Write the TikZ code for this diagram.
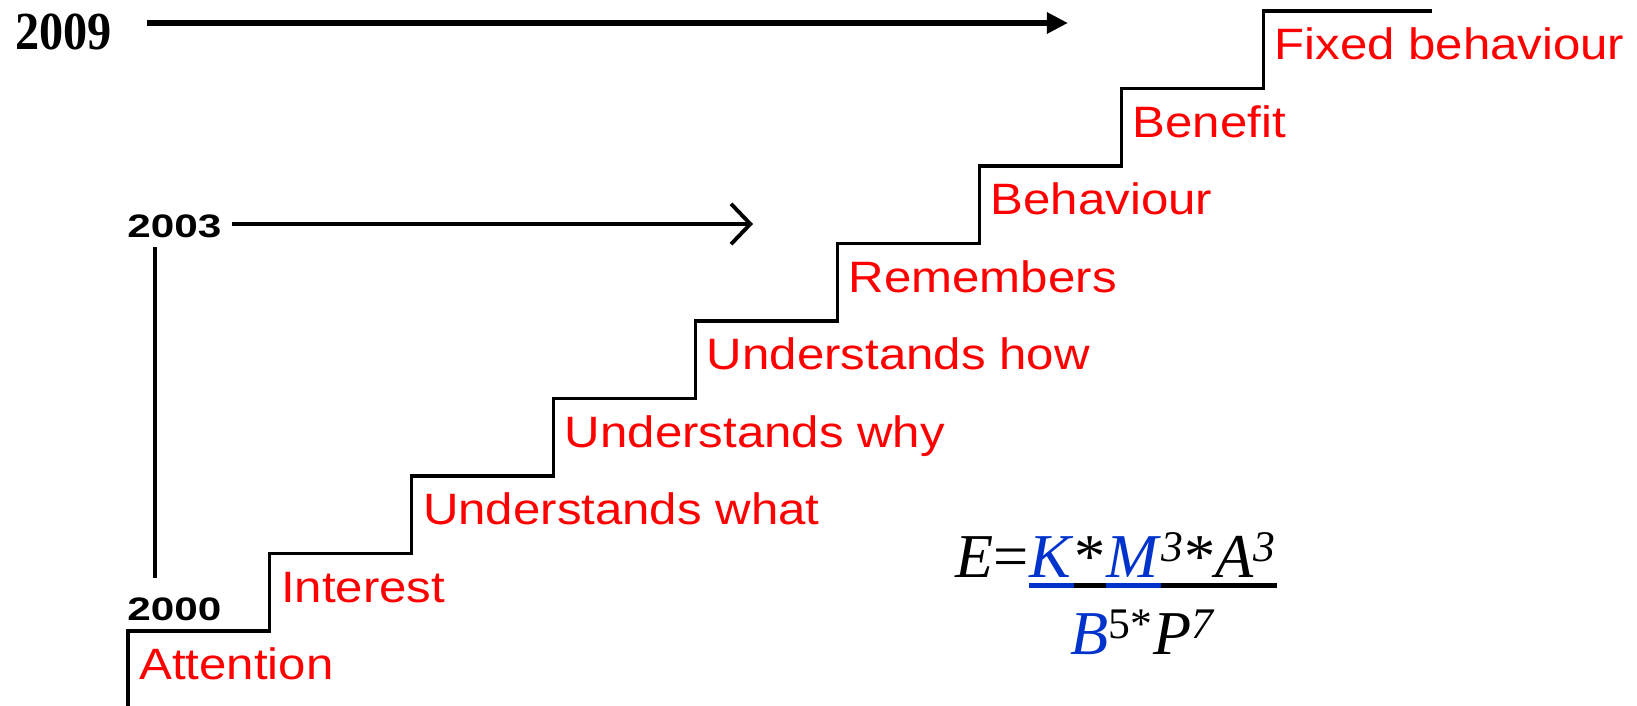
\documentclass[tikz,border=0pt]{standalone}
\usepackage{fontspec}
\setmainfont{Liberation Serif}
\newfontfamily\stepfont[FakeStretch=1.12]{Liberation Sans}
\newfontfamily\yearfont[FakeStretch=1.3]{Liberation Sans}
\newfontfamily\bigyearfont[FakeStretch=0.9]{Liberation Serif}
\usetikzlibrary{arrows.meta}
\definecolor{formblue}{RGB}{0,51,204}

\tikzset{
  steplabel/.style={anchor=base west,inner sep=0pt,text=red,
    font=\stepfont\fontsize{25}{30}\selectfont},
  year/.style={anchor=base west,inner sep=0pt,
    font=\yearfont\bfseries\fontsize{18.5}{22}\selectfont},
  formula/.style={anchor=base west,inner sep=0pt,
    font=\fontsize{35.5}{42}\selectfont},
  stair/.style={line width=1.8pt},
  fracbar/.style={line width=2.7pt}
}

\begin{document}
\begin{tikzpicture}[x=0.02cm,y=-0.02cm]
  \useasboundingbox (0,0) rectangle (1637,706);
  % steps and their labels
  \foreach \txt [count=\i from 0] in {Attention,Interest,Understands what,
      Understands why,Understands how,Remembers,Behaviour,Benefit,
      Fixed behaviour} {
    \coordinate (S\i) at ({128+141.9*\i},{631-77.5*\i});
    \node[steplabel] (L\i) at ([xshift=6.2pt,yshift=-27.8pt]S\i) {\txt};
  }
  \draw[stair] (128,706) -- (S0) -| (S1) -| (S2) -| (S3) -| (S4) -| (S5)
    -| (S6) -| (S7) -| (S8) -- ++(169,0);
  %%
  \node[anchor=base west,inner sep=0pt,
    font=\bigyearfont\bfseries\fontsize{30.5}{36}\selectfont] (Y2009) at (15,50) {2009};
  \node[year] (Y2003) at (127,237) {2003};
  \node[year] (Y2000) at (127,620) {2000};
  \coordinate (A09s) at (147,23);
  \coordinate (A09e) at (1068,23);
  \coordinate (A03s) at (232,224);
  \coordinate (A03e) at (753,224);
  \coordinate (V03) at (155,247);
  \coordinate (V00) at (155,578);
  \path[-{Triangle[length=12pt,width=11.5pt]},line width=3.7pt] (A09s) edge (A09e);
  \path[-{Straight Barb[length=11pt,width=23pt]},line width=2.2pt] (A03s) edge (A03e);
  \path[line width=1.9pt] (V03) edge (V00);
  %% formula
  \node[formula] (LHS) at (955,577) {\textit{E}=};
  \node[formula,text=formblue] (NK) at (LHS.base east) {\textit{K}};
  \node[formula] (NS) at (NK.base east) {*};
  \node[formula,text=formblue] (NM) at (NS.base east) {\textit{M}};
  \node[formula] (NR) at (NM.base east) {\textsuperscript{\textit{3}}*\textit{A}\textsuperscript{\textit{3}}};
  \draw[fracbar] ([yshift=-5pt]NK.base west) -- ([yshift=-5pt]NR.base east);
  \draw[fracbar,formblue] ([yshift=-5pt]NK.base west) -- ([yshift=-5pt]NK.base east);
  \draw[fracbar,formblue] ([yshift=-5pt]NM.base west) -- ([yshift=-5pt]NM.base east);
  \node[formula,anchor=base] (DEN) at (1143,654)
    {\textcolor{formblue}{\textit{B}}\textsuperscript{5*}\textit{P}\textsuperscript{\textit{7}}};
\end{tikzpicture}
\end{document}
